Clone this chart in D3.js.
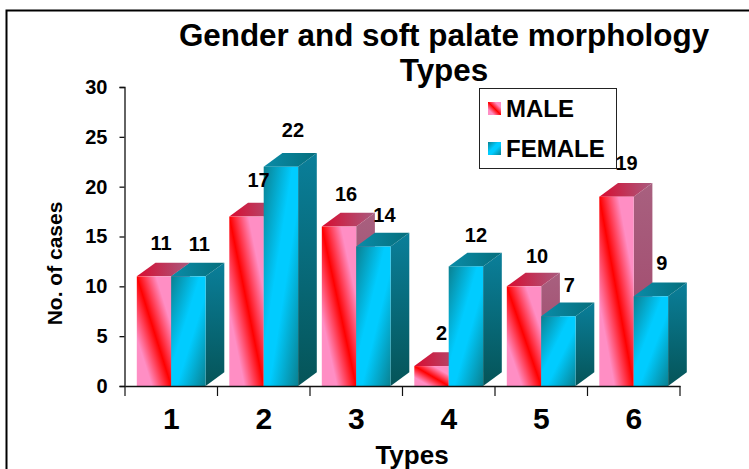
<!DOCTYPE html>
<html><head><meta charset="utf-8">
<script src="https://cdn.jsdelivr.net/npm/d3@7"></script>
<style>html,body{margin:0;padding:0;background:#fff;overflow:hidden}svg{display:block}text{font-family:"Liberation Sans",Arial,sans-serif;font-weight:700;fill:#000}</style>
</head><body><svg id="c" width="749" height="469"></svg>
<script>
const categories=["1","2","3","4","5","6"];
const maleValues=[11,17,16,2,10,19];
const femaleValues=[11,22,14,12,7,9];
const yTicks=[0,5,10,15,20,25,30];
const maleLabelShift=[[7,-26],[12,-30],[7,-26],[10,-26],[13,-23],[10,-27]];
const femaleLabelShift=[[11,-25],[12,-30],[11,-24],[10,-24],[11,-24],[11,-26]];
const svg=d3.select("#c");
const defs=svg.append("defs");
function grad(id,stops,x1,y1,x2,y2){
  const g=defs.append("linearGradient").attr("id",id).attr("x1",x1).attr("y1",y1).attr("x2",x2).attr("y2",y2);
  stops.forEach(s=>g.append("stop").attr("offset",s[0]).attr("stop-color",s[1]));
}
grad("mF",[[0,"#ff8ec4"],[.22,"#ff8ec4"],[.5,"#ff0000"],[.78,"#ff8ec4"],[1,"#ff8ec4"]],1,0,0,1);
grad("fF",[[0,"#0a8090"],[.42,"#00ccff"],[.58,"#00ccff"],[1,"#0a8090"]],0,0,1,1);
grad("mT",[[0,"#d80c30"],[1,"#a85c80"]],0,0,1,0);
grad("mS",[[0,"#a8607f"],[1,"#a04468"]],0,0,0,1);
grad("fT",[[0,"#0a8ca8"],[1,"#066e7c"]],0,0,1,0);
grad("fS",[[0,"#0a7f9a"],[1,"#055458"]],0,0,0,1);

const frame=d3.path();
frame.moveTo(6.5,480);frame.lineTo(6.5,10.5);frame.lineTo(760,10.5);
svg.append("path").attr("d",frame.toString()).attr("fill","none").attr("stroke","#000").attr("stroke-width",2);

const x=d3.scaleBand().domain(categories).range([125,680]);
const y=d3.scaleLinear().domain([0,30]).range([386,87]);
const inner=d3.scaleBand().domain(["m","f"]).range([11.8,80.6]);
const dx=18.7,dy=-13.7;

const series=[{k:"m",v:maleValues},{k:"f",v:femaleValues}];
const g=svg.append("g");
function bar(sel,cx,w,val,p){
  const x0=cx,x1=cx+w,y0=y(0),yt=y(val);
  sel.append("path").attr("d",`M${x1},${y0}L${x1+dx},${y0+dy}L${x1+dx},${yt+dy}L${x1},${yt}Z`).attr("fill",`url(#${p}S)`);
  sel.append("path").attr("d",`M${x0},${yt}L${x0+dx},${yt+dy}L${x1+dx},${yt+dy}L${x1},${yt}Z`).attr("fill",`url(#${p}T)`);
  sel.append("rect").attr("x",x0).attr("y",yt).attr("width",w).attr("height",y0-yt).attr("fill",`url(#${p}F)`);
}
categories.forEach((c,i)=>{
  series.forEach(s=>bar(g.append("g"),x(c)+inner(s.k),inner.bandwidth(),s.v[i],s.k));
});

const ya=d3.axisLeft(y).tickValues(yTicks).tickSize(5).tickPadding(12);
const yg=svg.append("g").attr("transform","translate(124.5,0)").call(ya);
yg.selectAll("text").style("font-size","20px");
yg.selectAll("path,line").attr("stroke","#111").attr("stroke-width",1.3);
const xa=d3.axisBottom(x).tickSize(0).tickPadding(22);
const xg=svg.append("g").attr("transform","translate(0,386)").call(xa);
xg.select("path").attr("stroke","#111").attr("stroke-width",1.3);
xg.selectAll("text").style("font-size","30px");
xg.selectAll("line").remove();
svg.append("g").attr("transform","translate(0,386)").selectAll("line")
  .data(x.domain().map(d=>x(d)).concat([x.range()[1]])).join("line")
  .attr("x1",d=>d).attr("x2",d=>d).attr("y1",0).attr("y2",10).attr("stroke","#111").attr("stroke-width",1.2);

function labels(vals,key,shift){
  vals.forEach((v,i)=>{
    const c=categories[i];
    svg.append("text")
      .attr("x",x(c)+inner(key)+inner.bandwidth()/2+shift[i][0])
      .attr("y",y(v)+shift[i][1])
      .attr("text-anchor","middle").style("font-size","20px").text(v);
  });
}
labels(maleValues,"m",maleLabelShift);
labels(femaleValues,"f",femaleLabelShift);

svg.append("text").attr("x",444).attr("y",46).attr("text-anchor","middle").style("font-size","31.4px").text("Gender and soft palate morphology");
svg.append("text").attr("x",444).attr("y",81).attr("text-anchor","middle").style("font-size","31.4px").text("Types");
svg.append("text").attr("x",412).attr("y",464).attr("text-anchor","middle").style("font-size","26px").text("Types");
svg.append("text").attr("transform","translate(61.5,263.5) rotate(-90)").attr("text-anchor","middle").style("font-size","21px").text("No. of cases");

const lg=svg.append("g");
lg.append("rect").attr("x",479.5).attr("y",88.5).attr("width",137).attr("height",80).attr("fill","none").attr("stroke","#222").attr("stroke-width",1);
[["MALE","mF",102],["FEMALE","fF",142]].forEach(d=>{
  lg.append("rect").attr("x",488).attr("y",d[2]).attr("width",13).attr("height",13).attr("fill",`url(#${d[1]})`);
  lg.append("text").attr("x",506).attr("y",d[2]+15).style("font-size","24px").text(d[0]);
});
</script></body></html>
